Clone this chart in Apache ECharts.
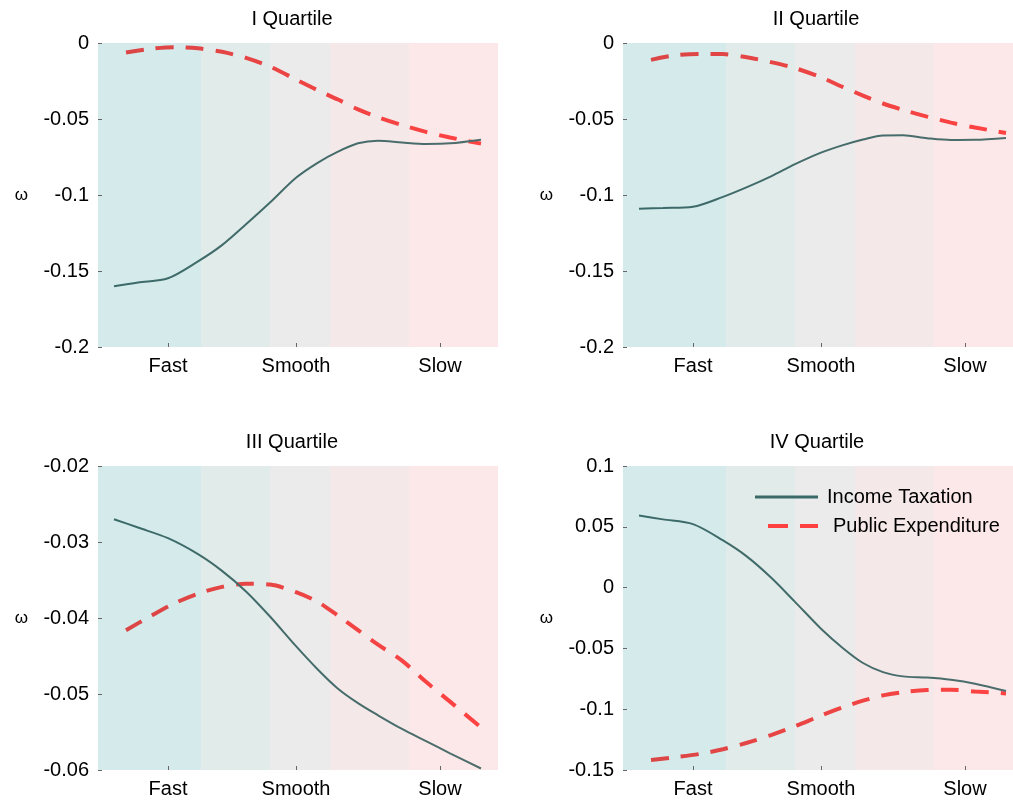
<!DOCTYPE html>
<html>
<head>
<meta charset="utf-8">
<script src="https://cdn.jsdelivr.net/npm/echarts@6/dist/echarts.min.js"></script>
<style>
  html, body { margin: 0; padding: 0; background: #fff; }
  #chart { width: 1013px; height: 803px; }
</style>
</head>
<body>
<div id="chart"></div>
<script>
// x positions on a 0..100 scale
const xSolid = [4, 10, 17.5, 25, 31, 37, 43, 49.5, 55, 60, 65, 70, 76, 82, 88, 95.75];
const xDashed = [7, 13, 19, 25, 31, 37, 43, 49.5, 55, 60, 65, 70, 76, 82, 88, 95.75];

const tickPos = [17.5, 49.5, 85.5];
const tickNames = ['Fast', 'Smooth', 'Slow'];

const bandEdges = [0, 25.75, 43, 58, 77.75, 100];
const bandColors = ['#d5eaeb', '#e0ebea', '#ebebeb', '#f4e8e8', '#fde8e9'];

const titles = ['I Quartile', 'II Quartile', 'III Quartile', 'IV Quartile'];

const q1Income = [-0.160, -0.1575, -0.1548, -0.1437, -0.1330, -0.1193, -0.1050, -0.0887, -0.0787, -0.0715, -0.0660, -0.0643, -0.0655, -0.0664, -0.0660, -0.0636];
const q1Public = [-0.0063, -0.0039, -0.0028, -0.0035, -0.0058, -0.0098, -0.0155, -0.0240, -0.0312, -0.0372, -0.0437, -0.0488, -0.0540, -0.0585, -0.0622, -0.0662];

const q2Income = [-0.109, -0.1085, -0.1077, -0.1012, -0.0948, -0.0877, -0.0797, -0.0721, -0.0672, -0.0635, -0.0608, -0.0607, -0.0626, -0.0638, -0.0637, -0.0625];
const q2Public = [-0.0111, -0.0081, -0.0072, -0.0073, -0.0094, -0.0126, -0.0165, -0.0226, -0.0290, -0.0346, -0.0398, -0.0440, -0.0484, -0.0524, -0.0556, -0.0592];

const q3Income = [-0.0270, -0.0281, -0.0295, -0.0316, -0.0338, -0.0365, -0.0398, -0.0437, -0.0468, -0.0493, -0.0512, -0.0528, -0.0546, -0.0562, -0.0578, -0.0598];
const q3Public = [-0.0416, -0.0398, -0.0381, -0.0368, -0.0359, -0.0355, -0.0356, -0.0366, -0.0379, -0.0397, -0.0416, -0.0435, -0.0456, -0.0484, -0.0510, -0.0544];

const q4Income = [0.0592, 0.0561, 0.0522, 0.0388, 0.0255, 0.0083, -0.0117, -0.0338, -0.0498, -0.0620, -0.0695, -0.0730, -0.0740, -0.0758, -0.0790, -0.0851];
const q4Public = [-0.1417, -0.1395, -0.1369, -0.1329, -0.1276, -0.1213, -0.1140, -0.1053, -0.0984, -0.0930, -0.0886, -0.0860, -0.0843, -0.0840, -0.0854, -0.0870];

const yRanges = [
    { min: -0.2, max: 0, interval: 0.05 },
    { min: -0.2, max: 0, interval: 0.05 },
    { min: -0.06, max: -0.02, interval: 0.01 },
    { min: -0.15, max: 0.1, interval: 0.05 }
];

const incomeData = [q1Income, q2Income, q3Income, q4Income];
const publicData = [q1Public, q2Public, q3Public, q4Public];

const font = "'Liberation Sans', Arial, Helvetica, sans-serif";
const solidColor = new echarts.graphic.LinearGradient(0, 0, 1, 0, [
    { offset: 0, color: '#3a6a68' }, { offset: 1, color: '#4d6d6c' }
]);
const dashColor = new echarts.graphic.LinearGradient(0, 0, 1, 0, [
    { offset: 0, color: '#da4646' }, { offset: 1, color: '#ff4242' }
]);

// right-hand panels are cut by the window edge: keep 4px per unit
const pos = [
    { left: 98, top: 43, width: 400, xMax: 100 },
    { left: 623, top: 43, width: 390, xMax: 97.5 },
    { left: 98, top: 466, width: 400, xMax: 100 },
    { left: 623, top: 466, width: 390, xMax: 97.5 }
];
const titlePos = [[292, 19], [816, 19], [292, 442], [817, 442]];

const pair = (xs, ys) => xs.map((x, i) => [x, ys[i]]);
const fmt = (v) => String(parseFloat(v.toFixed(4)));

const grids = [], xAxes = [], yAxes = [], series = [], graphics = [];

for (let i = 0; i < 4; i++) {
    const p = pos[i];
    grids.push({ left: p.left, top: p.top, width: p.width, height: 304 });

    xAxes.push({
        type: 'value',
        gridIndex: i,
        min: 0,
        max: p.xMax,
        z: 5,
        axisLine: { show: false, onZero: false },
        splitLine: { show: false },
        axisTick: {
            show: true,
            inside: true,
            length: 4,
            customValues: tickPos,
            lineStyle: { color: '#666' }
        },
        axisLabel: {
            customValues: tickPos,
            formatter: (v) => tickNames[tickPos.indexOf(v)] || '',
            color: '#000',
            fontFamily: font,
            fontSize: 20,
            margin: 9
        }
    });

    yAxes.push({
        type: 'value',
        gridIndex: i,
        min: yRanges[i].min,
        max: yRanges[i].max,
        interval: yRanges[i].interval,
        z: 5,
        name: 'ω',
        nameLocation: 'middle',
        nameRotate: 0,
        nameGap: 70,
        nameTextStyle: { color: '#000', fontSize: 17, fontFamily: font },
        axisLine: { show: false, onZero: false },
        splitLine: { show: false },
        axisTick: { show: true, inside: true, length: 4, lineStyle: { color: '#666' } },
        axisLabel: {
            formatter: fmt,
            color: '#000',
            fontFamily: font,
            fontSize: 20,
            margin: 9
        }
    });

    // background bands
    const bands = [];
    for (let b = 0; b < bandColors.length; b++) {
        bands.push([
            { xAxis: bandEdges[b], itemStyle: { color: bandColors[b] } },
            { xAxis: Math.min(bandEdges[b + 1], p.xMax) }
        ]);
    }
    series.push({
        type: 'line',
        xAxisIndex: i,
        yAxisIndex: i,
        data: [],
        silent: true,
        z: 0,
        markArea: { silent: true, z: 0, data: bands }
    });

    series.push({
        name: 'Income Taxation',
        type: 'line',
        xAxisIndex: i,
        yAxisIndex: i,
        data: pair(xSolid, incomeData[i]),
        smooth: 0.3,
        symbol: 'none',
        z: 3,
        lineStyle: { color: solidColor, width: 2 },
        itemStyle: { color: '#3a6a68' }
    });

    series.push({
        name: 'Public Expenditure',
        type: 'line',
        xAxisIndex: i,
        yAxisIndex: i,
        data: pair(xDashed, publicData[i]),
        smooth: 0.3,
        symbol: 'none',
        z: 2,
        lineStyle: { color: dashColor, width: 4, type: [18, 12] },
        itemStyle: { color: '#ff4040' }
    });

    graphics.push({
        type: 'text',
        x: titlePos[i][0],
        y: titlePos[i][1],
        style: {
            text: titles[i],
            fill: '#000',
            font: '20px ' + font,
            textAlign: 'center',
            textVerticalAlign: 'middle'
        }
    });
}

const chart = echarts.init(document.getElementById('chart'), null, { renderer: 'canvas' });
chart.setOption({
    animation: false,
    backgroundColor: '#fff',
    grid: grids,
    xAxis: xAxes,
    yAxis: yAxes,
    series: series,
    graphic: graphics,
    legend: [
        {
            data: [{ name: 'Income Taxation', icon: 'path://M0,0H63V3H0Z', itemStyle: { color: '#3a6a68' } }],
            left: 750,
            top: 482,
            itemWidth: 63,
            itemHeight: 3,
            textStyle: { color: '#000', fontSize: 20, fontFamily: font, padding: [0, 0, 0, 4] }
        },
        {
            data: [{ name: 'Public Expenditure', icon: 'path://M0,0H20V4H0Z M32,0H50V4H32Z', itemStyle: { color: '#ff4040' } }],
            left: 763,
            top: 511,
            itemWidth: 50,
            itemHeight: 4,
            textStyle: { color: '#000', fontSize: 20, fontFamily: font, padding: [0, 0, 0, 10] }
        }
    ]
});

window.addEventListener('resize', () => {
    chart.resize();
});
</script>
</body>
</html>
